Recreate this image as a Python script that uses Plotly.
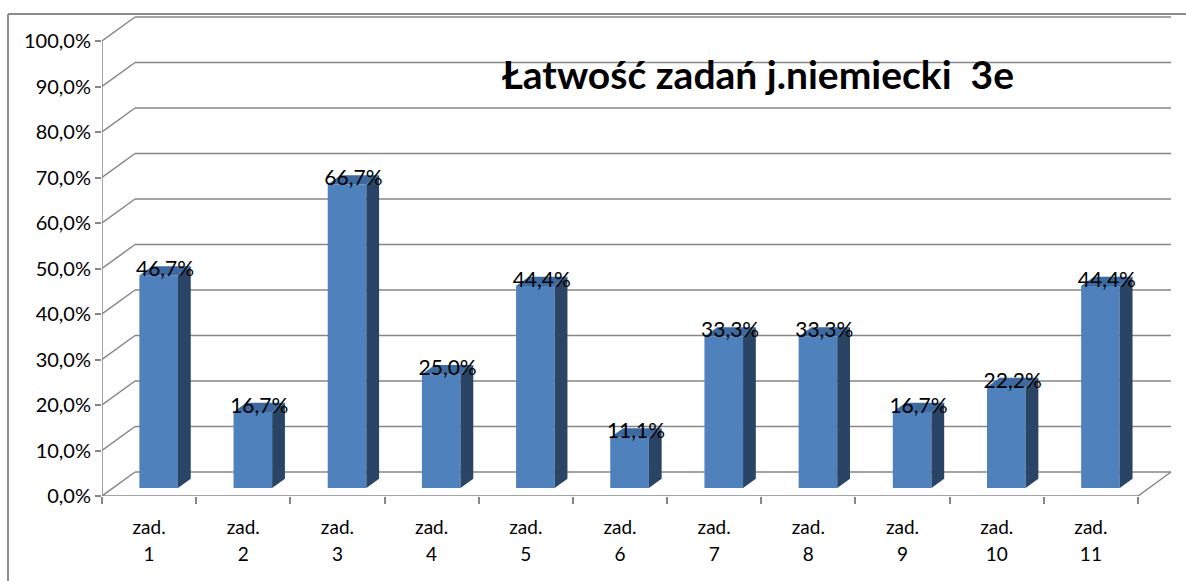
import plotly.graph_objects as go

# ---- data ----
categories = ["zad. 1", "zad. 2", "zad. 3", "zad. 4", "zad. 5", "zad. 6",
              "zad. 7", "zad. 8", "zad. 9", "zad. 10", "zad. 11"]
values = [46.7, 16.7, 66.7, 25.0, 44.4, 11.1, 33.3, 33.3, 16.7, 22.2, 44.4]
value_labels = ["46,7%", "16,7%", "66,7%", "25,0%", "44,4%", "11,1%",
                "33,3%", "33,3%", "16,7%", "22,2%", "44,4%"]
y_ticks = [0, 10, 20, 30, 40, 50, 60, 70, 80, 90, 100]
y_tick_labels = ["0,0%", "10,0%", "20,0%", "30,0%", "40,0%", "50,0%",
                 "60,0%", "70,0%", "80,0%", "90,0%", "100,0%"]
title_text = "<b>Łatwość zadań j.niemiecki  3e</b>"

# ---- geometry (3D look) ----
W, H = 1186, 581
L_PX, R_PX, T_PX, B_PX = 102, 1172, 14, 496
PX_PER_X = 94.18
PX_PER_Y = 4.55
x_range = [0, (R_PX - L_PX) / PX_PER_X]
y_range = [0, (B_PX - T_PX) / PX_PER_Y]

DEPTH_X = 33 / PX_PER_X      # full depth offset in x units
DEPTH_Y = 24 / PX_PER_Y      # full depth offset in y units
F0, F1 = 0.333, 0.72         # bar depth span (fractions of full depth)
BAR_L, BAR_R = 0.28, 0.69    # bar edges inside category (front plane units)

n = len(values)
GRID = "#868686"
FRONT = "#4F81BD"
SIDE = "#2A4466"
TOP = "#3D6AA1"
FONT = "Lato, Calibri, Carlito, sans-serif"

fig = go.Figure()

base = F0 * DEPTH_Y
shift0 = F0 * DEPTH_X
ddx = (F1 - F0) * DEPTH_X
ddy = (F1 - F0) * DEPTH_Y
bar_w = BAR_R - BAR_L

# front faces
centers = [i + (BAR_L + BAR_R) / 2 + shift0 for i in range(n)]
fig.add_trace(go.Bar(x=centers, y=values, base=[base] * n, width=[bar_w] * n,
                     marker=dict(color=FRONT, line=dict(width=0)),
                     hoverinfo="skip", showlegend=False))

# side and top faces
for i, v in enumerate(values):
    left = centers[i] - bar_w / 2
    right = centers[i] + bar_w / 2
    top = base + v
    fig.add_trace(go.Scatter(
        x=[right, right, right + ddx, right + ddx, right],
        y=[base, top, top + ddy, base + ddy, base],
        mode="lines", fill="toself", fillcolor=SIDE,
        line=dict(width=0, color=SIDE), hoverinfo="skip", showlegend=False))
    fig.add_trace(go.Scatter(
        x=[left, right, right + ddx, left + ddx, left],
        y=[top, top, top + ddy, top + ddy, top],
        mode="lines", fill="toself", fillcolor=TOP,
        line=dict(width=0, color=TOP), hoverinfo="skip", showlegend=False))

# data labels
fig.add_trace(go.Scatter(
    x=[c + ddx / 2 for c in centers],
    y=[base + v + ddy / 2 for v in values],
    mode="text", text=value_labels, textposition="middle center",
    textfont=dict(family=FONT, size=21, color="black"),
    cliponaxis=False, hoverinfo="skip", showlegend=False))

# walls / gridlines as shapes
shapes = []
x_end = n
for t in y_ticks:
    shapes.append(dict(type="line", xref="x", yref="y", layer="below",
                       x0=DEPTH_X, x1=x_end + DEPTH_X, y0=t + DEPTH_Y, y1=t + DEPTH_Y,
                       line=dict(color=GRID, width=1.5)))
    shapes.append(dict(type="line", xref="x", yref="y", layer="below",
                       x0=0, x1=DEPTH_X, y0=t, y1=t + DEPTH_Y,
                       line=dict(color=GRID, width=1.5)))
shapes.append(dict(type="line", xref="x", yref="y", layer="below",
                   x0=0, x1=x_end, y0=0, y1=0, line=dict(color=GRID, width=1.5)))
shapes.append(dict(type="line", xref="x", yref="y", layer="below",
                   x0=x_end, x1=x_end + DEPTH_X, y0=0, y1=DEPTH_Y,
                   line=dict(color=GRID, width=1.5)))
shapes.append(dict(type="line", xref="x", yref="y", layer="below",
                   x0=0, x1=0, y0=0, y1=y_ticks[-1], line=dict(color=GRID, width=1.5)))


def px_to_paper_x(px):
    return (px - L_PX) / (R_PX - L_PX)


def px_to_paper_y(py):
    return (B_PX - py) / (B_PX - T_PX)


# outer chart frame
shapes.append(dict(type="line", xref="paper", yref="paper",
                   x0=px_to_paper_x(8), x1=px_to_paper_x(8),
                   y0=px_to_paper_y(14), y1=px_to_paper_y(600),
                   line=dict(color="#8C8C8C", width=2)))
shapes.append(dict(type="line", xref="paper", yref="paper",
                   x0=px_to_paper_x(8), x1=px_to_paper_x(1200),
                   y0=px_to_paper_y(14), y1=px_to_paper_y(14),
                   line=dict(color="#8C8C8C", width=2)))

cat_line1 = [c.split(" ")[0] for c in categories]
cat_line2 = [c.split(" ")[1] for c in categories]
label_x = [i + 0.5 for i in range(n)]
label_font = dict(family=FONT, size=19, color="black")

fig.update_layout(
    width=W, height=H,
    margin=dict(l=L_PX, r=W - R_PX, t=T_PX, b=H - B_PX, pad=0),
    paper_bgcolor="white", plot_bgcolor="white",
    shapes=shapes,
    showlegend=False,
    title=dict(text=title_text, x=758 / W, xanchor="center", xref="container",
               y=1 - 75 / H, yanchor="middle", yref="container",
               font=dict(family=FONT, size=39, color="black")),
    xaxis=dict(range=x_range, tickvals=list(range(n + 1)),
               ticktext=[""] * (n + 1), ticks="outside", ticklen=7,
               tickcolor=GRID, tickwidth=1.5, showgrid=False, zeroline=False,
               showline=False, fixedrange=True),
    xaxis2=dict(range=x_range, overlaying="x", side="bottom", anchor="y",
                tickvals=label_x, ticktext=cat_line1,
                ticks="", ticklabelstandoff=18, showgrid=False, zeroline=False,
                showline=False, tickfont=label_font),
    xaxis3=dict(range=x_range, overlaying="x", side="bottom", anchor="y",
                tickvals=label_x, ticktext=cat_line2,
                ticks="", ticklabelstandoff=45, showgrid=False, zeroline=False,
                showline=False, tickfont=label_font),
    yaxis=dict(range=y_range, tickvals=y_ticks, ticktext=y_tick_labels,
               ticks="outside", ticklen=6, tickcolor=GRID, tickwidth=1.5,
               showgrid=False, zeroline=False, showline=False,
               tickfont=dict(family=FONT, size=20, color="black")),
)
# invisible traces to activate label axes
for ax in ["x2", "x3"]:
    fig.add_trace(go.Scatter(x=[0], y=[0], xaxis=ax, yaxis="y", mode="markers",
                             marker=dict(opacity=0), hoverinfo="skip", showlegend=False))

fig.write_html("out.html", config={"displayModeBar": False},
               post_script="document.body.style.margin='0';document.body.style.overflow='hidden';")
